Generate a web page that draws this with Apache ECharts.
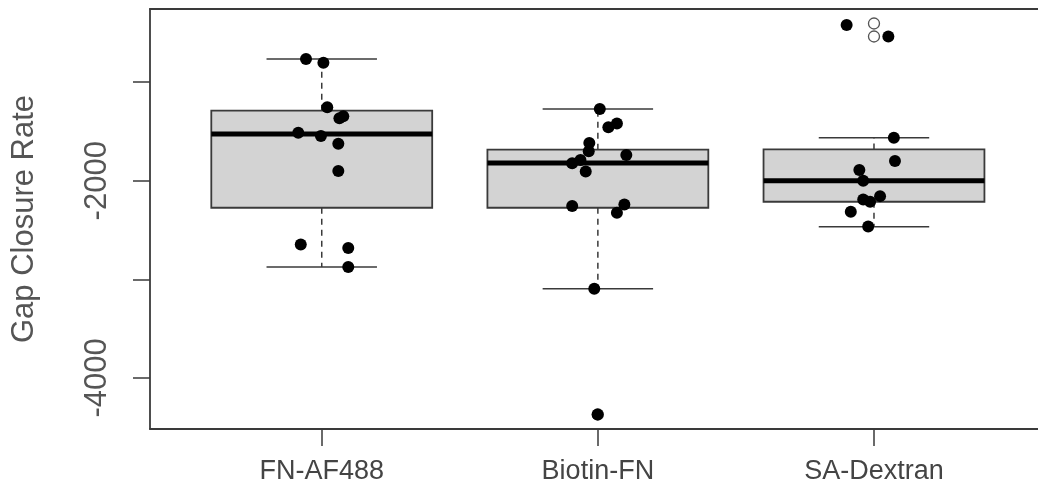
<!DOCTYPE html>
<html>
<head>
<meta charset="utf-8">
<script src="https://cdn.jsdelivr.net/npm/echarts@6/dist/echarts.min.js"></script>
<style>
  html, body { margin: 0; padding: 0; background: #fff; }
  #chart { width: 1038px; height: 485px; }
</style>
</head>
<body>
<div id="chart"></div>
<script>
// groups and box statistics
const groups = ['FN-AF488', 'Biotin-FN', 'SA-Dextran']
const boxLow = [-2874, -3095, -2467]
const boxQ1 = [-2274, -2274, -2213]
const boxMedian = [-1525, -1820, -2000]
const boxQ3 = [-1289, -1685, -1682]
const boxHigh = [-764, -1272, -1565]

// outliers drawn by boxplot (open circles)
const outliers = [[2, -4371], [3, -405], [3, -537]]

// jittered raw points [x, value]
const pointsFN = [
  [0.943, -764], [1.006, -804], [1.020, -1254], [1.064, -1365], [1.078, -1345],
  [0.915, -1512], [0.997, -1545], [1.060, -1625], [1.060, -1900],
  [0.924, -2647], [1.096, -2681], [1.096, -2875]
]
const pointsBiotin = [
  [2.007, -1272], [2.038, -1457], [2.069, -1420], [1.969, -1617], [1.967, -1700],
  [2.103, -1740], [1.907, -1823], [1.937, -1790], [1.956, -1906], [1.907, -2257],
  [2.096, -2240], [2.069, -2325], [1.987, -3095], [1.999, -4371]
]
const pointsSA = [
  [2.901, -420], [3.052, -537], [3.072, -1565], [3.076, -1800], [2.947, -1890],
  [2.961, -2000], [2.961, -2190], [2.986, -2213], [3.022, -2156], [2.916, -2314],
  [2.979, -2464]
]

const yTicks = [-4000, -3000, -2000, -1000]
const yLabels = [-4000, -2000]

const axisColor = '#3a3a3a'
const textColor = '#555'

const boxData = groups.map((g, i) => [i + 1, boxLow[i], boxQ1[i], boxMedian[i], boxQ3[i], boxHigh[i]])

const renderBox = (params, api) => {
  const x = api.value(0)
  const low = api.value(1), q1 = api.value(2), med = api.value(3), q3 = api.value(4), high = api.value(5)
  const half = 0.4, cap = 0.2
  const tl = api.coord([x - half, q3])
  const br = api.coord([x + half, q1])
  const line = (a, b, style) => ({
    type: 'line',
    shape: { x1: a[0], y1: a[1], x2: b[0], y2: b[1] },
    style: Object.assign({ stroke: axisColor, lineWidth: 1.5 }, style)
  })
  return {
    type: 'group',
    children: [
      line(api.coord([x, q3]), api.coord([x, high]), { lineDash: [6, 5] }),
      line(api.coord([x, q1]), api.coord([x, low]), { lineDash: [6, 5] }),
      line(api.coord([x - cap, high]), api.coord([x + cap, high])),
      line(api.coord([x - cap, low]), api.coord([x + cap, low])),
      {
        type: 'rect',
        shape: { x: tl[0], y: tl[1], width: br[0] - tl[0], height: br[1] - tl[1] },
        style: { fill: '#d3d3d3', stroke: axisColor, lineWidth: 1.8 }
      },
      line(api.coord([x - half, med]), api.coord([x + half, med]), { stroke: '#000', lineWidth: 5 })
    ]
  }
}

const chart = echarts.init(document.getElementById('chart'), null, { renderer: 'canvas' })
chart.setOption({
  animation: false,
  backgroundColor: '#fff',
  grid: { left: 150, right: 0, top: 9, bottom: 51 },
  xAxis: [
    {
      type: 'value',
      min: 0.378,
      max: 3.594,
      splitLine: { show: false },
      axisLine: { onZero: false, lineStyle: { color: axisColor, width: 1.8 } },
      axisTick: { customValues: [1, 2, 3], length: 17, lineStyle: { color: axisColor, width: 1.5 } },
      axisLabel: {
        customValues: [1, 2, 3],
        formatter: (v) => groups[Math.round(v) - 1],
        margin: 29,
        color: '#444',
        fontSize: 27,
        fontFamily: '"Liberation Sans", Arial, sans-serif'
      }
    },
    {
      type: 'value',
      position: 'top',
      min: 0.378,
      max: 3.594,
      splitLine: { show: false },
      axisLine: { onZero: false, lineStyle: { color: axisColor, width: 1.8 } },
      axisTick: { show: false },
      axisLabel: { show: false }
    }
  ],
  yAxis: {
    type: 'value',
    min: -4518,
    max: -258,
    name: 'Gap Closure Rate',
    nameLocation: 'middle',
    nameRotate: 90,
    nameGap: 110,
    nameTextStyle: { color: textColor, fontSize: 31, fontFamily: '"Liberation Sans", Arial, sans-serif' },
    splitLine: { show: false },
    axisLine: { onZero: false, lineStyle: { color: axisColor, width: 1.8 } },
    axisTick: { customValues: yTicks, length: 17, lineStyle: { color: axisColor, width: 1.5 } },
    axisLabel: {
      customValues: yLabels,
      formatter: (v) => String(v),
      rotate: 90,
      margin: 37,
      color: textColor,
      fontSize: 31,
      fontFamily: '"Liberation Sans", Arial, sans-serif'
    }
  },
  series: [
    {
      type: 'custom',
      renderItem: renderBox,
      data: boxData,
      encode: { x: 0, y: [1, 2, 3, 4, 5] },
      z: 1
    },
    {
      type: 'scatter',
      data: outliers,
      symbol: 'circle',
      symbolSize: 11,
      itemStyle: { color: '#fff', borderColor: '#555', borderWidth: 1.3, opacity: 1 },
      z: 2
    },
    ...[pointsFN, pointsBiotin, pointsSA].map((pts) => ({
      type: 'scatter',
      data: pts,
      symbol: 'circle',
      symbolSize: 12,
      itemStyle: { color: '#000', opacity: 1 },
      z: 3
    }))
  ]
})
</script>
</body>
</html>
